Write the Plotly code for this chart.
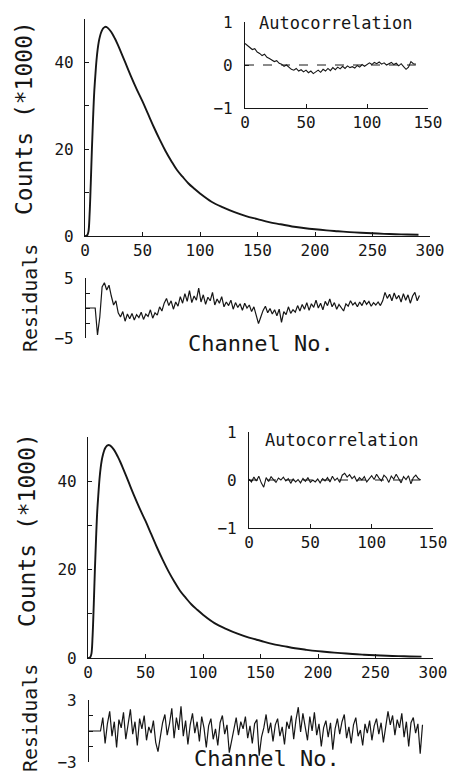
import plotly.graph_objects as go

W, H = 455, 774
FONT = "DejaVu Sans Mono"
INK = "#161616"

# decay curve (counts / 1000), same for both halves
channel = [0, 1, 2, 3, 4, 5, 6, 7, 8, 9, 10, 11, 12, 13, 14, 15, 16, 17, 18, 19,
           20, 22, 24, 26, 28, 30, 35, 40, 45, 50, 55, 60, 65, 70, 75, 80, 85, 90,
           95, 100, 110, 120, 130, 140, 150, 160, 170, 180, 190, 200, 210, 220,
           230, 240, 250, 260, 270, 280, 290]
counts = [0, 0, 0.2, 1.0, 5, 12, 20, 27, 33, 37, 40.5, 43, 44.8, 46, 46.9, 47.5,
          47.9, 48.1, 48.2, 48.1, 47.9, 47.3, 46.5, 45.5, 44.4, 43.2, 40.0, 36.8,
          33.8, 31.0, 28.0, 25.0, 22.2, 19.6, 17.3, 15.2, 13.6, 12.1, 10.9, 9.8,
          7.9, 6.6, 5.5, 4.6, 3.9, 3.2, 2.7, 2.2, 1.85, 1.55, 1.3, 1.1, 0.9, 0.75,
          0.62, 0.5, 0.42, 0.35, 0.3]

# weighted residuals, every second channel
res_channel = list(range(0, 291, 2))
res_top = [0, 0, 0, 0, 0,
           -4.5, -1.5, 3.5, 4.2, 3.0, 3.8, 2.0, 0.5, 1.2, -0.8,
           -1.5, -0.6, -2.2, -1.0, -1.8, -0.9, -2.0, -1.1, -1.6, -0.7,
           -1.9, -1.0, -1.4, -0.3, -1.7, -0.8, -1.2, 0.2, -0.5, 0.8,
           1.6, 0.4, 1.2, -0.2, 1.0, 0.3, 1.9, 0.8, 2.4, 1.1,
           2.9, 0.9, 2.0, 1.3, 3.3, 1.0, 2.2, 0.6, 1.8, 1.2,
           2.6, 0.5, 1.5, 0.8, 1.9, 0.2, 1.0, 0.4, 1.3, -0.2,
           0.9, 0.1, 0.7, -0.4, 0.8, 0.0, 0.5, -0.6, 0.2, -1.1,
           -2.6, -1.5, -0.4, 0.3, -0.8, -0.1, -1.0, -0.3, -1.3, -0.2,
           -2.4, -0.6, -1.1, 0.2, -0.9, -0.3, -0.7, 0.4, -0.5, 0.6,
           -0.2, 0.9, -0.4, 0.7, 0.1, 1.3, 0.0, 0.8, -0.3, 1.1,
           0.4, 1.5, 0.2, 0.9, -0.2, 0.6, 0.1, -0.5, 0.7, 0.3,
           1.2, 0.5, 0.9, 0.2, 1.0, 0.4, 1.3, 0.6, 1.1, 0.3,
           0.9, 0.5, 1.0, 0.4, 1.2, 2.6, 1.6, 2.3, 1.2, 2.5,
           1.5, 2.1, 1.0, 2.4, 1.3, 2.2, 0.8, 2.0, 2.6, 1.2,
           2.1]
res_bot = [0, 0, 0, 0, 0,
           0.0, 1.3, -1.2, 0.7, 1.9, -0.5, 0.9, -1.6, 1.1, 0.3,
           1.8, -0.8, 0.6, 2.1, -0.3, 0.9, -1.4, 1.2, 0.2, 1.5,
           -0.9, 0.4, -0.2, 1.0, -1.1, -2.0, -0.6, 0.8, 1.6, -0.4,
           0.7, 2.2, -0.7, 1.3, 0.1, 2.4, -0.5, 1.0, -1.3, 0.6,
           1.7, -0.2, 0.9, -1.0, 1.4, 0.3, -1.6, 0.5, 1.2, -0.8,
           0.2, -1.4, 0.8, 1.5, -0.3, 0.6, -2.1, -0.9, 0.4, 1.3,
           -0.4, 0.9, 0.2, 1.4, -0.7, 0.5, -1.2, 0.7, 1.1, -2.4,
           -0.6, 0.3, 1.6, -0.2, 0.8, -1.0, 0.6, 1.2, -0.5, 0.4,
           -1.3, 0.9, 0.2, 1.5, -0.8, 1.1, 2.3, -0.1, 1.7, 0.5,
           -0.9, 1.4, 0.0, 1.8, -0.4, 0.7, -1.5, 0.3, 1.0, -0.6,
           0.8, -1.8, 0.2, 1.2, -0.3, 0.9, 1.6, -0.7, 0.4, -1.2,
           0.6, 1.3, -0.5, 0.1, -1.4, 0.7, -0.2, 1.0, -0.9, 0.5,
           1.2, -0.3, 0.8, -1.1, 0.4, 1.9, 0.6, 1.5, -0.4, 1.1,
           0.3, 1.7, -0.6, 0.9, -1.5, 0.8, 1.3, -0.2, 0.7, -2.2,
           0.6]

# autocorrelation of the residuals
lag = list(range(0, 141, 2))
acf_top = [0.50, 0.45, 0.42, 0.36, 0.38, 0.30, 0.27, 0.22, 0.25, 0.18,
           0.15, 0.12, 0.08, 0.10, 0.04, 0.02, -0.03, 0.00, -0.06, -0.10,
           -0.12, -0.08, -0.14, -0.11, -0.16, -0.12, -0.18, -0.14, -0.20, -0.15,
           -0.12, -0.17, -0.10, -0.14, -0.08, -0.13, -0.06, -0.11, -0.05, -0.09,
           -0.03, -0.08, -0.02, -0.06, -0.04, -0.07, -0.01, -0.05, 0.01, -0.03,
           0.02, 0.05, 0.01, 0.06, 0.03, 0.07, 0.02, 0.05, 0.00, 0.04,
           0.06, 0.01, 0.04, -0.02, 0.03, -0.04, -0.10, -0.05, 0.08, 0.03,
           0.02]
acf_bot = [0.02, -0.04, 0.06, -0.02, 0.08, -0.06, -0.15, 0.05, -0.03, 0.07,
           0.01, -0.05, 0.04, 0.00, 0.06, -0.02, 0.03, -0.07, 0.02, -0.04,
           0.01, -0.06, 0.03, -0.03, 0.05, -0.05, 0.00, -0.04, 0.02, -0.06,
           0.03, -0.02, 0.05, -0.04, 0.08, -0.01, 0.04, -0.05, 0.10, 0.14,
           0.06, 0.11, 0.03, 0.08, -0.03, 0.05, 0.00, 0.07, -0.04, 0.02,
           0.09, 0.01, 0.12, 0.04, -0.02, 0.10, 0.05, -0.05, 0.08, 0.02,
           0.12, 0.03, -0.06, 0.07, 0.01, 0.09, -0.08, 0.05, 0.10, 0.03,
           0.00]


def fx(p):
    return p / W


def fy(p):
    return 1 - p / H


# pixel boxes (left, right, top, bottom) for each half
halves = [
    dict(res=res_top, acf=acf_top, rlim=5,
         main=(85, 430, 19, 236), resid=(86, 431, 278, 338), inset=(245, 428, 22, 108),
         counts_lbl=(24, 118), res_lbl=(30, 298), chan_lbl=(261, 343), acf_lbl=(336, 23)),
    dict(res=res_bot, acf=acf_bot, rlim=3,
         main=(88, 433, 437, 658), resid=(89, 434, 700, 762), inset=(249, 433, 432, 528),
         counts_lbl=(27, 530), res_lbl=(30, 718), chan_lbl=(267, 758), acf_lbl=(342, 440)),
]

axis_style = dict(showgrid=False, zeroline=False, showline=True, linecolor=INK,
                  linewidth=1.3, ticks="inside", ticklen=4, tickcolor=INK,
                  tickwidth=1.2, automargin=False,
                  tickfont=dict(family=FONT, size=16, color=INK))

fig = go.Figure()
layout = {}
annotations = []
n = 1
for h in halves:
    im, ir, ia = n, n + 1, n + 2
    n += 3
    sx = lambda i: "x" if i == 1 else f"x{i}"
    sy = lambda i: "y" if i == 1 else f"y{i}"
    kx = lambda i: "xaxis" if i == 1 else f"xaxis{i}"
    ky = lambda i: "yaxis" if i == 1 else f"yaxis{i}"

    fig.add_trace(go.Scatter(x=channel, y=counts, mode="lines", line_shape="spline",
                             line=dict(color=INK, width=1.9), xaxis=sx(im), yaxis=sy(im)))
    fig.add_trace(go.Scatter(x=res_channel, y=h["res"], mode="lines",
                             line=dict(color=INK, width=1.2), xaxis=sx(ir), yaxis=sy(ir)))
    fig.add_trace(go.Scatter(x=[lag[0], lag[-1]], y=[0, 0], mode="lines",
                             line=dict(color=INK, width=1, dash="dash"),
                             xaxis=sx(ia), yaxis=sy(ia)))
    fig.add_trace(go.Scatter(x=lag, y=h["acf"], mode="lines",
                             line=dict(color=INK, width=1.1), xaxis=sx(ia), yaxis=sy(ia)))

    l, r, t, b = h["main"]
    layout[kx(im)] = dict(axis_style, domain=[fx(l), fx(r)], range=[0, 300], anchor=sy(im),
                          tickvals=[0, 50, 100, 150, 200, 250, 300])
    layout[ky(im)] = dict(axis_style, domain=[fy(b), fy(t)], range=[0, 50], anchor=sx(im),
                          tickvals=[0, 10, 20, 30, 40, 50],
                          ticktext=["0", "", "20", "", "40", ""], ticklabelstandoff=7)

    l, r, t, b = h["resid"]
    lim = h["rlim"]
    layout[kx(ir)] = dict(domain=[fx(l), fx(r)], range=[0, 300], anchor=sy(ir),
                          visible=False, automargin=False)
    layout[ky(ir)] = dict(axis_style, domain=[fy(b), fy(t)], range=[-lim, lim], anchor=sx(ir),
                          tickvals=[-lim, -lim / 2, 0, lim / 2, lim],
                          ticktext=[f"\u2212{lim}", "", "", "", f"{lim}"], ticklabelstandoff=8)

    l, r, t, b = h["inset"]
    layout[kx(ia)] = dict(axis_style, domain=[fx(l), fx(r)], range=[0, 150], anchor=sy(ia),
                          tickvals=[0, 50, 100, 150])
    layout[ky(ia)] = dict(axis_style, domain=[fy(b), fy(t)], range=[-1, 1], anchor=sx(ia),
                          tickvals=[-1, 0, 1], ticktext=["\u22121", "0", "1"],
                          ticklabelstandoff=8)

    for key, text, size, ang in (("counts_lbl", "Counts (*1000)", 23, -90),
                                 ("res_lbl", "Residuals", 20, -90),
                                 ("chan_lbl", "Channel No.", 22, 0),
                                 ("acf_lbl", "Autocorrelation", 17, 0)):
        px, py = h[key]
        annotations.append(dict(x=fx(px), y=fy(py), xref="paper", yref="paper",
                                text=text, showarrow=False, textangle=ang,
                                xanchor="center", yanchor="middle",
                                font=dict(family=FONT, size=size, color=INK)))

fig.update_layout(width=W, height=H, margin=dict(l=0, r=0, t=0, b=0),
                  paper_bgcolor="white", plot_bgcolor="rgba(0,0,0,0)",
                  showlegend=False, annotations=annotations, **layout)

# the page's default body margin would push the figure off the 455x774 window
fig.write_html("out.html", config={"displayModeBar": False},
               post_script="document.body.style.margin='0';")
